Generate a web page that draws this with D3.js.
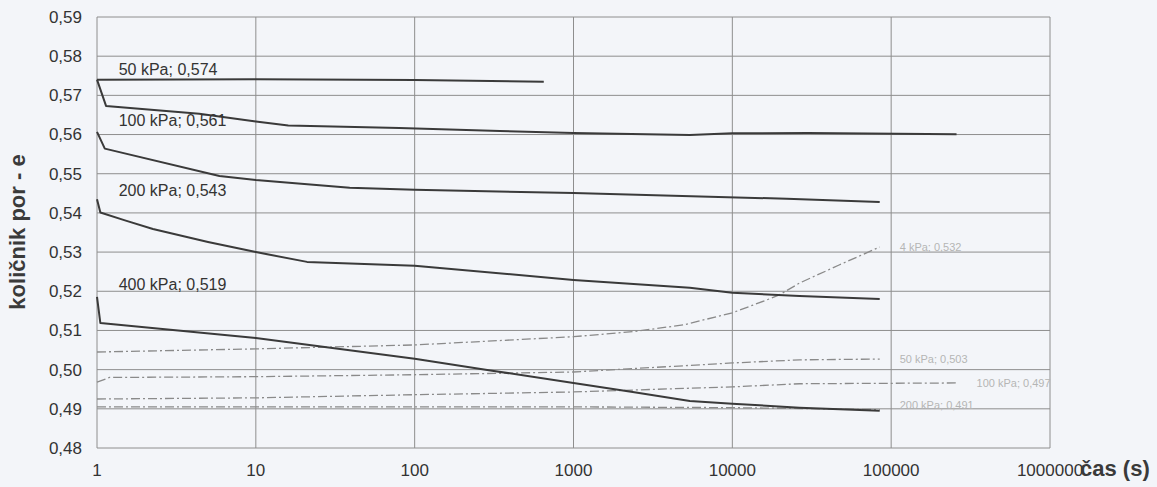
<!DOCTYPE html>
<html>
<head>
<meta charset="utf-8">
<script src="https://cdn.jsdelivr.net/npm/d3@7"></script>
<style>
  body { margin: 0; background: #f3f5f9; }
  svg { display: block; font-family: Arial, "Liberation Sans", sans-serif; }
</style>
</head>
<body>
<script>
const width = 1157,
  height = 487;
const margin = { top: 17, right: 107, bottom: 39, left: 97 };
const innerWidth = width - margin.left - margin.right;
const innerHeight = height - margin.top - margin.bottom;

// loading stages (solid lines), [time s, e]
const stage1 = [[1, 0.574], [10, 0.5741], [100, 0.5739], [650, 0.5735]];
const stage2 = [[1, 0.574], [1.14, 0.5673], [4.4, 0.5653], [10, 0.5633], [16, 0.5623], [80, 0.5617], [344, 0.5609], [1000, 0.5604], [5400, 0.5599], [10000, 0.5603], [30000, 0.5604], [258000, 0.5601]];
const stage3 = [[1, 0.5607], [1.12, 0.5564], [5.9, 0.5494], [10, 0.5484], [39, 0.5464], [100, 0.5459], [1000, 0.5451], [22000, 0.5436], [84700, 0.5428]];
const stage4 = [[1, 0.5435], [1.05, 0.5401], [1.5, 0.5381], [2.25, 0.5359], [5, 0.5326], [10, 0.53], [21, 0.5275], [100, 0.5265], [1000, 0.5229], [5400, 0.5209], [10000, 0.5196], [26500, 0.5188], [84700, 0.518]];
const stage5 = [[1, 0.5186], [1.05, 0.5119], [10, 0.5081], [100, 0.5028], [300, 0.4998], [1000, 0.4966], [2360, 0.4943], [5400, 0.492], [10000, 0.4913], [26500, 0.4903], [84700, 0.4895]];

// unloading stages (dash-dot lines)
const unload1 = [[1, 0.5045], [10, 0.5053], [100, 0.5063], [1000, 0.5084], [2360, 0.5097], [4900, 0.5114], [10000, 0.5145], [16500, 0.5178], [19800, 0.5191], [26500, 0.5221], [47000, 0.5267], [84700, 0.5313]];
const unload2 = [[1, 0.4968], [1.2, 0.498], [10, 0.4982], [100, 0.4987], [1000, 0.4994], [10000, 0.5017], [26500, 0.5025], [84700, 0.5027]];
const unload3 = [[1, 0.4925], [10, 0.4928], [100, 0.4936], [1000, 0.4943], [10000, 0.4956], [26500, 0.4964], [258000, 0.4966]];
const unload4 = [[1, 0.4905], [100, 0.4905], [1000, 0.4905], [10000, 0.4903], [84700, 0.4898]];

const stageLabels = ["50 kPa; 0,574", "100 kPa; 0,561", "200 kPa; 0,543", "400 kPa; 0,519"];
const stageLabelValues = [0.574, 0.561, 0.543, 0.519];
const unloadLabels = ["4 kPa; 0,532", "50 kPa; 0,503", "100 kPa; 0,497", "200 kPa; 0,491"];

const xTicks = [1, 10, 100, 1000, 10000, 100000, 1000000];
const yTicks = d3.range(48, 60).map(d => d / 100);

const comma = d3.formatLocale({ decimal: ",", thousands: ".", grouping: [3], currency: ["", ""] });
const yFormat = comma.format(".2f");

const xScale = d3.scaleLog().domain([1, 1000000]).range([0, innerWidth]);
const yScale = d3.scaleLinear().domain([0.48, 0.59]).range([innerHeight, 0]);

const svg = d3.select("body").append("svg")
  .attr("width", width)
  .attr("height", height);

const mainG = svg.append("g")
  .attr("transform", `translate(${margin.left},${margin.top})`);

// grid
mainG.append("g").selectAll("line").data(yTicks).enter().append("line")
  .attr("x1", 0).attr("x2", innerWidth)
  .attr("y1", d => yScale(d)).attr("y2", d => yScale(d))
  .attr("stroke", "#8e8e8e").attr("stroke-width", 1);

mainG.append("g").selectAll("line").data(xTicks).enter().append("line")
  .attr("x1", d => xScale(d)).attr("x2", d => xScale(d))
  .attr("y1", 0).attr("y2", innerHeight)
  .attr("stroke", "#8e8e8e").attr("stroke-width", 1);

// tick labels
mainG.append("g").selectAll("text").data(yTicks).enter().append("text")
  .attr("x", -15).attr("y", d => yScale(d)).attr("dy", "0.35em")
  .attr("text-anchor", "end").attr("font-size", 17).attr("fill", "#333")
  .text(d => yFormat(d));

mainG.append("g").selectAll("text").data(xTicks).enter().append("text")
  .attr("x", d => xScale(d)).attr("y", innerHeight + 28)
  .attr("text-anchor", "middle").attr("font-size", 17).attr("fill", "#333")
  .text(d => d);

const line = d3.line().x(d => xScale(d[0])).y(d => yScale(d[1]));

// unloading lines
const unloads = [unload1, unload2, unload3, unload4];
mainG.append("g").selectAll("path").data(unloads).enter().append("path")
  .attr("d", line).attr("fill", "none")
  .attr("stroke", "#8a8a8a").attr("stroke-width", 1.3)
  .attr("stroke-dasharray", "9,3,2,3");

mainG.append("g").selectAll("text").data(unloads).enter().append("text")
  .attr("x", d => xScale(d[d.length - 1][0]) + 20)
  .attr("y", d => yScale(d[d.length - 1][1]))
  .attr("dy", (d, i) => i === 3 ? "-0.1em" : "0.35em")
  .attr("font-size", 11).attr("fill", "#b5b5b5")
  .text((d, i) => unloadLabels[i]);

// loading lines
const stages = [stage1, stage2, stage3, stage4, stage5];
mainG.append("g").selectAll("path").data(stages).enter().append("path")
  .attr("d", line).attr("fill", "none")
  .attr("stroke", "#3a3a3a").attr("stroke-width", 2)
  .attr("stroke-linejoin", "round");

mainG.append("g").selectAll("text").data(stageLabelValues).enter().append("text")
  .attr("x", xScale(1.37))
  .attr("y", d => yScale(d) - 5)
  .attr("font-size", 16).attr("fill", "#333")
  .text((d, i) => stageLabels[i]);

// axis titles
svg.append("text")
  .attr("transform", `translate(25,232) rotate(-90)`)
  .attr("text-anchor", "middle")
  .attr("font-size", 22).attr("font-weight", "bold").attr("fill", "#3a3a3a")
  .text("količnik por - e");

svg.append("text")
  .attr("x", 1080).attr("y", margin.top + innerHeight + 28)
  .attr("font-size", 22).attr("font-weight", "bold").attr("fill", "#3a3a3a")
  .text("čas (s)");
</script>
</body>
</html>
